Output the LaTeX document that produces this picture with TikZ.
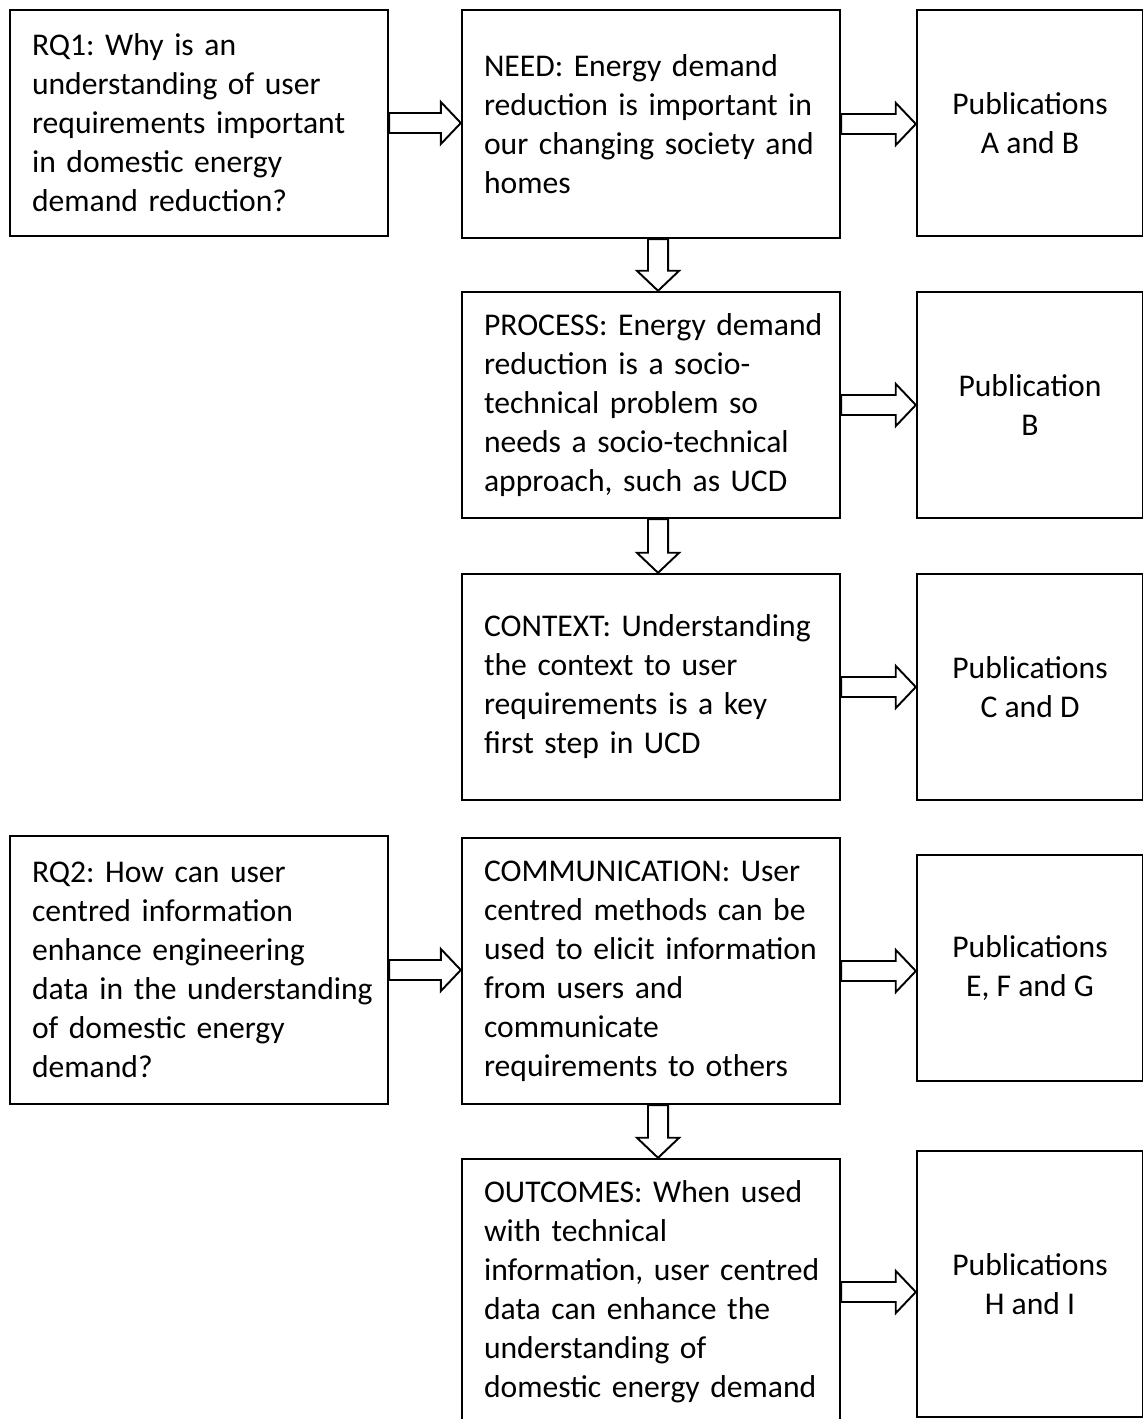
\documentclass[tikz,border=0pt]{standalone}
\usepackage{fontspec}
\setmainfont{Carlito}
\usetikzlibrary{calc}
\definecolor{boxline}{gray}{0.0}
\newcommand\boxfont{\fontsize{18}{22.2}\selectfont\frenchspacing\hyphenpenalty=10000\relax\exhyphenpenalty=10000\relax}
\tikzset{
  txt/.style={font=\boxfont},
  qbox/.style={txt,draw=boxline,line width=1.4pt,rectangle,align=left,text width=6.68cm,inner xsep=0.44cm,minimum width=7.56cm},
  pbox/.style={txt,draw=boxline,line width=1.4pt,rectangle,align=center,minimum width=4.52cm,minimum height=4.52cm},
  blk/.style={draw=boxline,fill=white,line width=1.1pt,line join=miter},
}
% outlined block arrows between named nodes
\newcommand\harrow[2]{%
  \draw[blk] let \p1=(#1.east), \p2=(#2.west) in
    (\x1,{\y1+5.7pt}) -- ({\x2-11.4pt},{\y1+5.7pt}) -- ({\x2-11.4pt},{\y1+12pt}) --
    (\x2,\y1) -- ({\x2-11.4pt},{\y1-12pt}) -- ({\x2-11.4pt},{\y1-5.7pt}) -- (\x1,{\y1-5.7pt}) -- cycle;}
\newcommand\varrow[2]{%
  \draw[blk] let \p1=(#1.south), \p2=(#2.north) in
    ({\x1+4pt-5.7pt},\y1) -- ({\x1+4pt-5.7pt},{\y2+11.4pt}) -- ({\x1+4pt-12pt},{\y2+11.4pt}) --
    ({\x1+4pt},\y2) -- ({\x1+4pt+12pt},{\y2+11.4pt}) -- ({\x1+4pt+5.7pt},{\y2+11.4pt}) -- ({\x1+4pt+5.7pt},\y1) -- cycle;}
\begin{document}
\begin{tikzpicture}[x=0.02cm,y=-0.02cm]
  \useasboundingbox (0,0) rectangle (1142,1419);
  % research questions
  \node[qbox,minimum height=4.52cm] (rq1) at (199,123) {RQ1: Why is an\\ understanding~of~user\\ requirements~important\\ in domestic energy\\ demand~reduction?};
  \node[qbox,minimum height=5.36cm] (rq2) at (199,970) {RQ2: How can user\\ centred~information\\ enhance~engineering\\ data~in~the~understanding\\ of domestic energy\\ demand?};
  % middle column
  \node[qbox,minimum height=4.56cm] (need) at (651,124) {NEED:~Energy~demand\\ reduction~is~important~in\\ our~changing~society~and\\ homes};
  \node[qbox,minimum height=4.52cm] (process) at (651,405) {PROCESS:~Energy~demand\\ reduction~is~a~socio-\\ technical~problem~so\\ needs~a~socio-technical\\ approach,~such~as~UCD};
  \node[qbox,minimum height=4.52cm] (context) at (651,687) {CONTEXT:~Understanding\\ the context to user\\ requirements~is~a~key\\ first step in UCD};
  \node[qbox,minimum height=5.32cm] (comm) at (651,971) {COMMUNICATION:~User\\ centred~methods~can~be\\ used~to~elicit~information\\ from users and\\ communicate\\ requirements~to~others};
  \node[qbox,minimum height=5.32cm] (outcomes) at (651,1292) {OUTCOMES:~When~used\\ with technical\\ information,~user~centred\\ data~can~enhance~the\\ understanding of\\ domestic~energy~demand};
  % publications
  \node[pbox] (pubAB) at (1030,123) {Publications\\ A and B};
  \node[pbox] (pubB) at (1030,405) {Publication\\ B};
  \node[pbox] (pubCD) at (1030,687) {Publications\\ C and D};
  \node[pbox] (pubEFG) at (1030,968) {Publications\\ E, F and G};
  \node[pbox,minimum height=5.32cm] (pubHI) at (1030,1284) {Publications\\ H and I};
  % arrows
  \harrow{rq1}{need}
  \harrow{rq2}{comm}
  \harrow{need}{pubAB}
  \harrow{process}{pubB}
  \harrow{context}{pubCD}
  \harrow{comm}{pubEFG}
  \harrow{outcomes}{pubHI}
  \varrow{need}{process}
  \varrow{process}{context}
  \varrow{comm}{outcomes}
\end{tikzpicture}
\end{document}
